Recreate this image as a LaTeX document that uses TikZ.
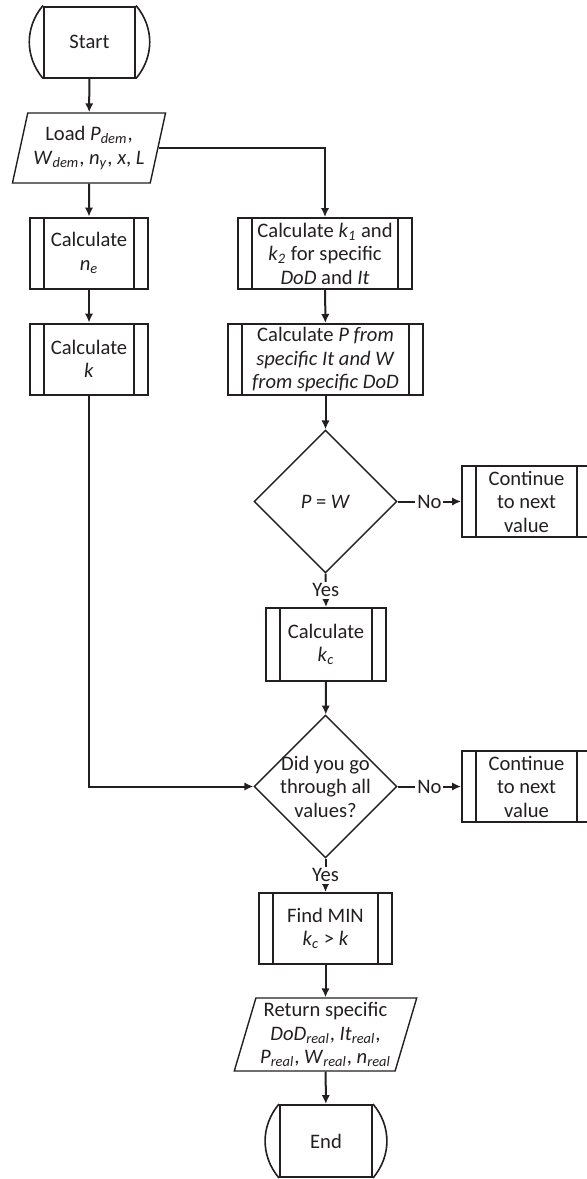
\documentclass[tikz,border=0pt]{standalone}
\usepackage{fontspec}
\setmainfont{Carlito}
\usepackage{tikz}
\usetikzlibrary{shapes.geometric}
\usetikzlibrary{arrows.meta}
\definecolor{ink}{HTML}{231F20}
\def\capends(#1)% Syntax: (node name) -- rounded ends of a terminal box
    { \draw[ink,line width=0.8pt] (#1.north west) to[bend right=40] (#1.south west);
      \draw[ink,line width=0.8pt] (#1.north east) to[bend left=40] (#1.south east); }
\newcommand{\sv}[2]{\textit{#1}\textsubscript{\textit{#2}}}

\begin{document}
\begin{tikzpicture}[x=0.5pt,y=-0.5pt,
  every node/.style={font=\fontsize{10.3}{11.75}\selectfont, text=ink, align=center},
  term/.style={rectangle, draw=ink, line width=1pt, minimum width=45.5pt, minimum height=35.5pt, inner sep=1pt},
  sub/.style={rectangle, draw=ink, line width=1pt, minimum height=35.5pt, inner sep=1pt,
    path picture={\draw[ink,line width=1pt]
      ([xshift=7pt]path picture bounding box.north west) -- ([xshift=7pt]path picture bounding box.south west)
      ([xshift=-7pt]path picture bounding box.north east) -- ([xshift=-7pt]path picture bounding box.south east);}},
  io/.style={trapezium, trapezium left angle=73, trapezium right angle=107, trapezium stretches=true,
    draw=ink, line width=0.7pt, inner sep=1pt},
  dec/.style={diamond, aspect=1, draw=ink, line width=0.7pt, minimum width=71.5pt, minimum height=71.5pt, inner sep=0pt},
  arr/.style={-{Latex[length=4.5pt,width=4.2pt]}, draw=ink, line width=1pt},
  tag/.style={fill=white, inner sep=1pt}]
  \useasboundingbox (0,0) rectangle (587,1179);
  \clip (0,0) rectangle (587,1179);

  % left column
  \node[term] (start) at (89.5,42) {Start};
  \capends(start);
  \node[io, minimum width=77pt, minimum height=35pt] (load) at (89,148) {Load \sv{P}{dem},\\ \sv{W}{dem}, \sv{n}{y}, \textit{x}, \textit{L}};
  \node[sub, minimum width=59pt] (cne) at (89,253) {Calculate\\ \sv{n}{e}};
  \node[sub, minimum width=59pt] (ck) at (89,359) {Calculate\\ \textit{k}};

  % right column
  \node[sub, minimum width=87pt] (ckone) at (325,253.5) {Calculate \sv{k}{1} and\\ \sv{k}{2} for specific\\ \textit{DoD} and \textit{It}};
  \node[sub, minimum width=97.5pt] (cp) at (325.5,359.5) {Calculate \textit{P from}\\ \textit{specific It and W}\\ \textit{from specific DoD}};
  \node[dec, label={[name=dtxt]center:\textit{P} = \textit{W}}] (dpw) at (325.5,501.5) {};
  \node[sub, minimum width=64.5pt] (contA) at (526.5,501.5) {Continue\\ to next\\ value};
  \node[sub, minimum width=60pt, minimum height=36.5pt] (ckc) at (326,644.5) {Calculate\\ \sv{k}{c}};
  \node[dec, label={[name=dalltxt]center:Did you go\\ through all\\ values?}] (dall) at (325.5,786.5) {};
  \node[sub, minimum width=64.5pt] (contB) at (526.5,786.5) {Continue\\ to next\\ value};
  \node[sub, minimum width=66.5pt] (fmin) at (325.5,928.5) {Find MIN\\ \sv{k}{c} > \textit{k}};
  \node[io, minimum width=91.5pt, minimum height=36.5pt] (ret) at (325.5,1034.5) {Return specific\\ \sv{DoD}{real}, \sv{It}{real},\\ \sv{P}{real}, \sv{W}{real}, \sv{n}{real}};
  \node[term, minimum width=46pt, minimum height=36pt] (stop) at (326,1141) {End};
  \capends(stop);

  %draw connectors
  \draw[arr] (start) -- (load);
  \draw[arr] (load) -- (cne);
  \draw[arr] (cne) -- (ck);
  \draw[arr] (load.east) -| (ckone.north);
  \draw[arr] (ckone) -- (cp);
  \draw[arr] (cp) -- (dpw);
  \draw[arr] (dpw.east) -- node[tag] (noA) {No} (contA.west);
  \draw[arr] (dpw.south) -- node[tag] (yesA) {Yes} (ckc.north);
  \draw[arr] (ckc) -- (dall);
  \draw[arr] (ck.south) |- (dall.west);
  \draw[arr] (dall.east) -- node[tag] (noB) {No} (contB.west);
  \draw[arr] (dall.south) -- node[tag] (yesB) {Yes} (fmin.north);
  \draw[arr] (fmin) -- (ret);
  \draw[arr] (ret) -- (stop);
\end{tikzpicture}
\end{document}
